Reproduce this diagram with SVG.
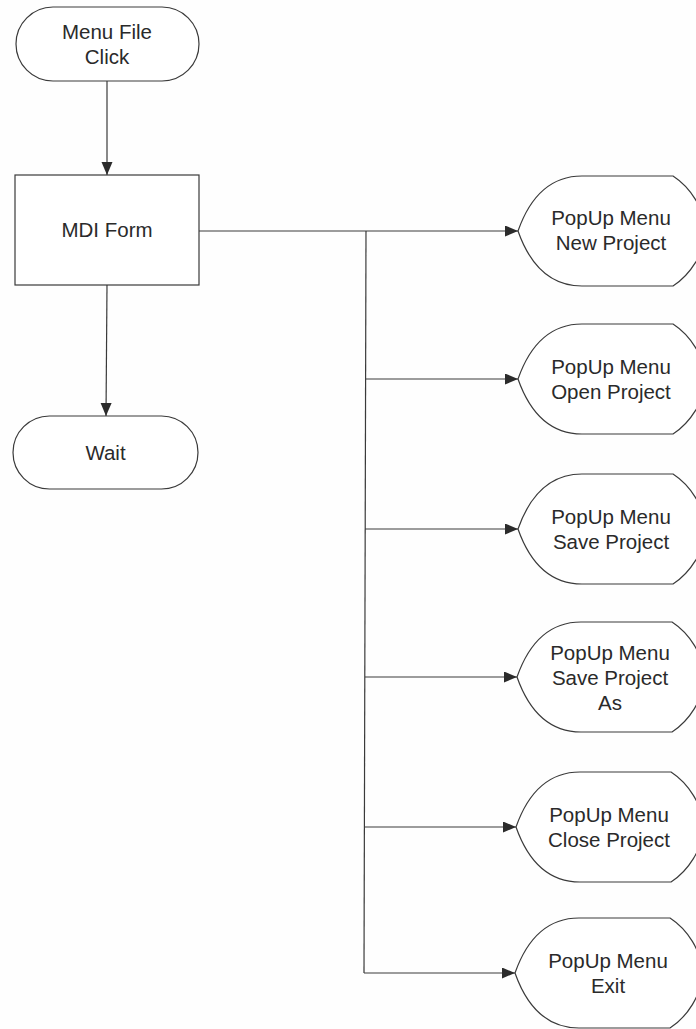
<svg xmlns="http://www.w3.org/2000/svg" width="696" height="1029" viewBox="0 0 696 1029">
  <defs>
    <marker id="arrow" markerWidth="14" markerHeight="12" refX="13" refY="5.5" orient="auto" markerUnits="userSpaceOnUse">
      <path d="M0,0 L13,5.5 L0,11 Z" fill="#2b2b2b"/>
    </marker>
    <!-- display shape: pointed left end, flat top/bottom, bulging right end; centred on (0,0) -->
    <path id="display" d="M0,0 C12,-34 32,-55 64,-55 L155,-55 C172,-44 187,-22 187,0 C187,22 172,44 155,55 L64,55 C32,55 12,34 0,0 Z"/>
  </defs>
  <style>
    .shape { fill: #ffffff; stroke: #3a3a3a; stroke-width: 1.2; }
    .conn { fill: none; stroke: #3a3a3a; stroke-width: 1.2; }
    .label { font-family: "Liberation Sans", Arial, sans-serif; font-size: 20.5px; fill: #2a2a2a; text-anchor: middle; }
  </style>
  <rect width="696" height="1029" fill="#fefefe"/>

  <g id="connectors">
    <line class="conn" x1="107" y1="81" x2="107" y2="175" marker-end="url(#arrow)"/>
    <line class="conn" x1="107" y1="285" x2="106" y2="416" marker-end="url(#arrow)"/>
    <line class="conn" x1="199" y1="231" x2="518" y2="231" marker-end="url(#arrow)"/>
    <line class="conn" x1="366" y1="231" x2="364" y2="973"/>
    <line class="conn" x1="366" y1="379" x2="518" y2="379" marker-end="url(#arrow)"/>
    <line class="conn" x1="365" y1="529" x2="518" y2="529" marker-end="url(#arrow)"/>
    <line class="conn" x1="365" y1="677" x2="517" y2="677" marker-end="url(#arrow)"/>
    <line class="conn" x1="364" y1="827" x2="516" y2="827" marker-end="url(#arrow)"/>
    <line class="conn" x1="364" y1="973" x2="515" y2="973" marker-end="url(#arrow)"/>
  </g>

  <g id="menu-file-click">
    <rect class="shape" x="16" y="7" width="183" height="74" rx="37" ry="37"/>
    <text class="label" x="107" y="38.5">Menu File</text>
    <text class="label" x="107" y="63.5">Click</text>
  </g>

  <g id="mdi-form">
    <rect class="shape" x="15" y="175" width="184" height="110"/>
    <text class="label" x="107" y="237">MDI Form</text>
  </g>

  <g id="wait">
    <rect class="shape" x="13" y="416" width="185" height="73" rx="36.5" ry="36.5"/>
    <text class="label" x="105.5" y="460">Wait</text>
  </g>

  <g id="popup-new-project">
    <use href="#display" class="shape" x="518" y="231"/>
    <text class="label" x="611" y="225">PopUp Menu</text>
    <text class="label" x="611" y="250">New Project</text>
  </g>

  <g id="popup-open-project">
    <use href="#display" class="shape" x="518" y="379"/>
    <text class="label" x="611" y="373.5">PopUp Menu</text>
    <text class="label" x="611" y="398.5">Open Project</text>
  </g>

  <g id="popup-save-project">
    <use href="#display" class="shape" x="518" y="529"/>
    <text class="label" x="611" y="523.5">PopUp Menu</text>
    <text class="label" x="611" y="548.5">Save Project</text>
  </g>

  <g id="popup-save-project-as">
    <use href="#display" class="shape" x="517" y="677"/>
    <text class="label" x="610" y="659.5">PopUp Menu</text>
    <text class="label" x="610" y="684.5">Save Project</text>
    <text class="label" x="610" y="709.5">As</text>
  </g>

  <g id="popup-close-project">
    <use href="#display" class="shape" x="516" y="827"/>
    <text class="label" x="609" y="821.5">PopUp Menu</text>
    <text class="label" x="609" y="846.5">Close Project</text>
  </g>

  <g id="popup-exit">
    <use href="#display" class="shape" x="515" y="973"/>
    <text class="label" x="608" y="967.5">PopUp Menu</text>
    <text class="label" x="608" y="992.5">Exit</text>
  </g>
</svg>
